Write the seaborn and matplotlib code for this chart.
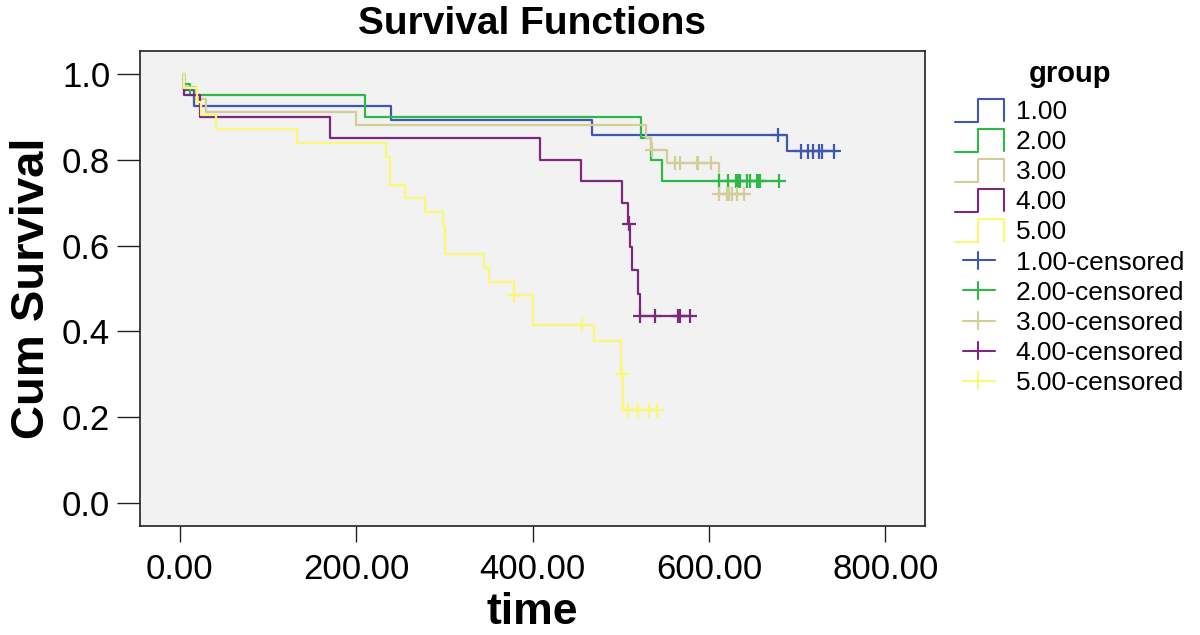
import numpy as np
import pandas as pd
import matplotlib
matplotlib.use("Agg")
import matplotlib.pyplot as plt
import seaborn as sns
from matplotlib.legend_handler import HandlerBase
from matplotlib.lines import Line2D

# --- data ---
groups = ["1.00", "2.00", "3.00", "4.00", "5.00"]
colors = ["#3E58AC", "#2EB848", "#D3CE97", "#7C287D", "#FBF873"]

# event times and survival level after each event
g1_times = [5, 16, 240, 467, 689]
g1_surv = [0.963, 0.926, 0.893, 0.857, 0.819]
g1_cens = [678, 704, 712, 718, 725, 728, 742]

g2_times = [5, 12, 210, 523, 534, 547]
g2_surv = [0.975, 0.95, 0.90, 0.85, 0.80, 0.75]
g2_cens = [612, 622, 631, 633, 635, 643, 647, 654, 656, 658, 679]

g3_times = [5, 19, 30, 200, 529, 534, 553, 611]
g3_surv = [0.969, 0.941, 0.911, 0.881, 0.85, 0.823, 0.792, 0.72]
g3_cens = [536, 562, 567, 586, 588, 602, 612, 620, 623, 626, 632, 640]

g4_times = [5, 23, 170, 409, 455.5, 502, 508.5, 511, 513, 519.6, 521.6]
g4_surv = [0.95, 0.90, 0.85, 0.80, 0.75, 0.70, 0.651, 0.596, 0.543, 0.488, 0.436]
g4_cens = [509.5, 522, 538.6, 565, 567, 578]

g5_times = [5, 20, 24, 41, 133, 234, 238, 256, 278.6, 298.6, 301, 345, 350.5,
            379, 401, 470, 500, 503]
g5_surv = [0.968, 0.935, 0.903, 0.871, 0.839, 0.806, 0.742, 0.71, 0.677, 0.645,
           0.581, 0.548, 0.516, 0.484, 0.415, 0.377, 0.302, 0.216]
g5_cens = [379.5, 456, 501.5, 508, 520, 532, 541]

all_times = [g1_times, g2_times, g3_times, g4_times, g5_times]
all_surv = [g1_surv, g2_surv, g3_surv, g4_surv, g5_surv]
all_cens = [g1_cens, g2_cens, g3_cens, g4_cens, g5_cens]


def surv_at(times, surv, t):
    i = np.searchsorted(times, t, side="right") - 1
    return 1.0 if i < 0 else surv[i]


# long tables for seaborn
curve_rows = []
cens_rows = []
for g, times, surv, cens in zip(groups, all_times, all_surv, all_cens):
    end = max(max(cens), times[-1])
    xs = [times[0]] + list(times) + [end]
    ys = [1.0] + list(surv) + [surv[-1]]
    for x, y in zip(xs, ys):
        curve_rows.append({"time": x, "surv": y, "group": g})
    for c in cens:
        cens_rows.append({"time": c, "surv": surv_at(times, surv, c), "group": g})
curves = pd.DataFrame(curve_rows)
censored = pd.DataFrame(cens_rows)
pal = dict(zip(groups, colors))

sns.set_style("ticks")
plt.rcParams["font.family"] = ["Liberation Sans", "DejaVu Sans"]
plt.rcParams["text.color"] = "black"
plt.rcParams["axes.labelcolor"] = "black"
plt.rcParams["xtick.color"] = "black"
plt.rcParams["ytick.color"] = "black"

fig = plt.figure(figsize=(12, 6.35), dpi=100)
ax = fig.add_axes([140 / 1200, 1 - 526 / 635, 785 / 1200, 475 / 635])
ax.set_facecolor("#F2F2F2")

sns.lineplot(data=curves, x="time", y="surv", hue="group", palette=pal,
             drawstyle="steps-post", estimator=None, sort=False,
             linewidth=1.6, legend=False, ax=ax)
sns.scatterplot(data=censored, x="time", y="surv", hue="group", palette=pal,
                marker="+", s=110, linewidth=1.6, legend=False, ax=ax, zorder=3)

ax.set_xlim(-45, 845)
ax.set_ylim(-0.053, 1.053)
ax.set_xticks([0, 200, 400, 600, 800])
ax.set_xticklabels([f"{v:.2f}" for v in [0, 200, 400, 600, 800]])
ax.set_yticks([0, 0.2, 0.4, 0.6, 0.8, 1.0])
ax.set_yticklabels([f"{v:.1f}" for v in [0, 0.2, 0.4, 0.6, 0.8, 1.0]])
ax.tick_params(axis="x", length=11.5, width=1, labelsize=25, pad=8, color="#222222")
ax.tick_params(axis="y", length=16.5, width=1, labelsize=25, pad=5, color="#222222")
for s in ax.spines.values():
    s.set_linewidth(1.2)
    s.set_color("#222222")

ax.set_xlabel("time", fontsize=32, fontweight="bold", labelpad=4)
ax.set_ylabel("Cum Survival", fontsize=34, fontweight="bold", labelpad=6)
ax.set_title("Survival Functions", fontsize=28, fontweight="bold", pad=12)


# legend: SPSS style step icons and + icons
class StepHandler(HandlerBase):
    def create_artists(self, legend, orig_handle, xdescent, ydescent,
                       width, height, fontsize, trans):
        x0, y0 = -xdescent, -ydescent - 0.05 * height
        h = height * 1.05
        xs = [x0, x0 + 0.48 * width, x0 + 0.48 * width, x0 + width, x0 + width]
        ys = [y0, y0, y0 + h, y0 + h, y0 + 0.05 * h]
        ln = Line2D(xs, ys, color=orig_handle.get_color(), linewidth=1.5,
                    transform=trans)
        return [ln]


class PlusHandler(HandlerBase):
    def create_artists(self, legend, orig_handle, xdescent, ydescent,
                       width, height, fontsize, trans):
        x0, y0 = -xdescent, -ydescent
        cy = y0 + height / 2
        xc = x0 + 0.48 * width
        hl = Line2D([x0 + 0.17 * width, x0 + 0.82 * width], [cy, cy],
                    color=orig_handle.get_color(), linewidth=1.5, transform=trans)
        vl = Line2D([xc, xc], [cy - 0.38 * height, cy + 0.38 * height],
                    color=orig_handle.get_color(), linewidth=1.5, transform=trans)
        return [hl, vl]


class StepLine(Line2D):
    pass


class PlusLine(Line2D):
    pass


handles = [StepLine([], [], color=c) for c in colors] + \
          [PlusLine([], [], color=c) for c in colors]
labels = groups + [g + "-censored" for g in groups]
leg = fig.legend(handles, labels, loc="upper left",
                 bbox_to_anchor=(955 / 1200, 1 - 60 / 635), frameon=False,
                 title="group", fontsize=19, title_fontsize=21,
                 handlelength=1.85, handleheight=0.9, handletextpad=0.45,
                 labelspacing=0.19, borderpad=0, borderaxespad=0,
                 handler_map={StepLine: StepHandler(), PlusLine: PlusHandler()})
leg.get_title().set_fontweight("bold")
leg._legend_box.sep = 8

fig.savefig("out.png", dpi=100)
